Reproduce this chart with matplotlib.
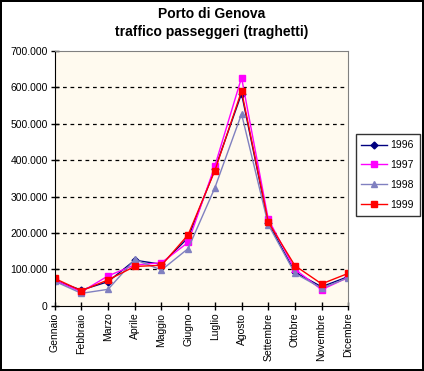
import matplotlib
matplotlib.use("Agg")
import matplotlib.pyplot as plt
from matplotlib.ticker import FuncFormatter

mesi = ["Gennaio", "Febbraio", "Marzo", "Aprile", "Maggio", "Giugno",
        "Luglio", "Agosto", "Settembre", "Ottobre", "Novembre", "Dicembre"]

y1996 = [69000, 43000, 66000, 125000, 114000, 187000, 375000, 583000, 228000, 92000, 52000, 80000]
y1997 = [70000, 38000, 82000, 112000, 118000, 174000, 384000, 627000, 238000, 100000, 44000, 78000]
y1998 = [67000, 34000, 45000, 127000, 98000, 157000, 324000, 527000, 223000, 89000, 48000, 77000]
y1999 = [75000, 41000, 71000, 108000, 111000, 195000, 371000, 590000, 230000, 110000, 60000, 89000]

plt.rcParams['font.family'] = ['Liberation Sans', 'DejaVu Sans']

fig = plt.figure(figsize=(4.24, 3.71), dpi=100)
fig.patch.set_facecolor("white")
fig.patch.set_edgecolor("black")
fig.patch.set_linewidth(1.5)
ax = fig.add_axes([0.129, 0.176, 0.6925, 0.6865])
ax.set_facecolor("#FFFAEF")

x = range(len(mesi))
ax.plot(x, y1996, color="#000080", marker="D", markersize=3.5, lw=1, label="1996")
ax.plot(x, y1997, color="#FF00FF", marker="s", markersize=4.5, lw=1, label="1997")
ax.plot(x, y1998, color="#8080C0", marker="^", markersize=5, lw=1, label="1998")
ax.plot(x, y1999, color="#FF0000", marker="s", markersize=5, lw=1, label="1999")

ax.set_xlim(0, 11)
ax.set_ylim(0, 700000)
ax.set_yticks(range(0, 700001, 100000))
ax.yaxis.set_major_formatter(FuncFormatter(lambda v, p: f"{int(v):,}".replace(",", ".")))
ax.set_xticks(list(x))
ax.set_xticklabels(mesi, rotation=90)
ax.tick_params(direction="inout", length=6, width=1, labelsize=7.5, pad=2, colors="black")

for v in range(100000, 700000, 100000):
    ax.axhline(v, color="black", lw=0.9, ls=(0, (3, 3)), zorder=0.5)

ax.spines["top"].set_color("#808080")
ax.spines["right"].set_color("#808080")
ax.spines["left"].set_color("black")
ax.spines["bottom"].set_color("black")

fig.text(0.5, 0.9636, "Porto di Genova", ha="center", va="center", fontsize=10, fontweight="bold")
fig.text(0.5, 0.915, "traffico passeggeri (traghetti)", ha="center", va="center", fontsize=10, fontweight="bold")

leg = fig.legend(loc="upper left", bbox_to_anchor=(355.5 / 424, 1 - 134.5 / 371),
                 fontsize=7.5, frameon=True, fancybox=False, edgecolor="black",
                 borderpad=0.55, labelspacing=0.95, handlelength=2.5, handletextpad=0.3,
                 borderaxespad=0)
leg.get_frame().set_linewidth(1)

plt.savefig("out.png", dpi=100)
